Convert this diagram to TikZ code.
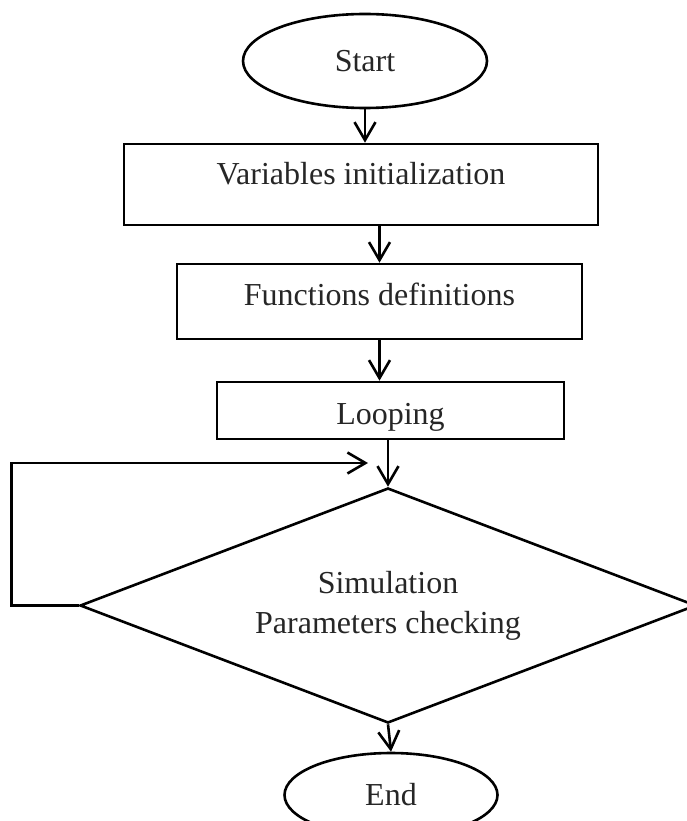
\documentclass[tikz,border=0pt]{standalone}
\usepackage{fontspec}
\setmainfont{Liberation Serif}
\usepackage{tikz}
\usetikzlibrary{shapes.geometric, arrows.meta}

\begin{document}
\begin{tikzpicture}[x=1pt, y=-1pt,
        line width=2.6pt,
        every node/.style = {font=\fontsize{32}{40}\selectfont, text=black!85, inner sep=0pt},
        oval/.style = {draw, ellipse},
        box/.style = {draw, rectangle, text height=22pt},
        check/.style = {draw, diamond, aspect=2.6, align=center},
        arr/.style = {-{Straight Barb[length=18pt, width=21pt]}}]
            \useasboundingbox (0,0) rectangle (687,821);                 %Rahmen
            \node [oval, minimum width=244pt, minimum height=94pt] (start) at (365,61) {Start};
            \node [box, text depth=23pt, minimum width=474pt, minimum height=81pt] (var) at (361,184.5) {Variables initialization};
            \node [box, text depth=15pt, minimum width=405pt, minimum height=75pt] (func) at (379.5,301.5) {Functions definitions};
            \node [box, text height=27pt, text depth=0pt, minimum width=347pt, minimum height=57pt] (loop) at (390.5,410.5) {Looping};
            \node [check, minimum width=616pt, minimum height=235pt] (sim) at (388,605.5) {Simulation\\Parameters checking};
            \node [oval, minimum width=213pt, minimum height=84pt] (end) at (391,795) {End};
            \coordinate (back) at (368,463);                              %Ruecksprung
            \draw [arr] (start.south) -- (start.south |- var.north);
            \draw [arr] (var.south -| func.north) -- (func.north);
            \draw [arr] (func.south) -- (func.south |- loop.north);
            \draw [arr] (sim.north |- loop.south) -- (sim.north);
            \draw [arr] (sim.south) -- (end.north);
            \draw [arr] (sim.west) -- ++(-67,0) |- (back);              %Schleife
        \end{tikzpicture}
\end{document}
